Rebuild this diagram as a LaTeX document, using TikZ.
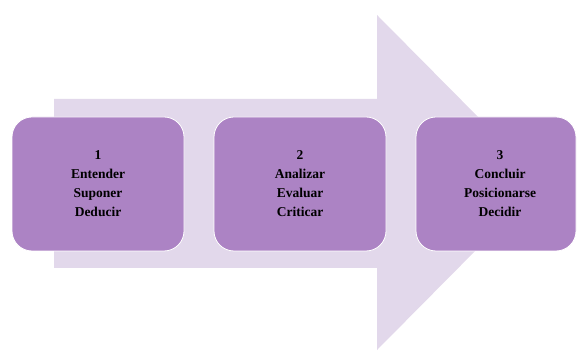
\documentclass[tikz,border=0pt]{standalone}
\usepackage{fontspec}
\setmainfont{Liberation Serif}
\usepackage{tikz}
\definecolor{lilac}{HTML}{E2D8EB}
\definecolor{violet}{HTML}{AC83C4}

\begin{document}
\begin{tikzpicture}[x=1pt, y=1pt]

\tikzstyle{every node}=[rectangle, rounded corners=20pt, fill=violet, draw=white, line width=0.8pt,
  minimum width=172pt, minimum height=134pt, align=center, text=black,
  font=\bfseries\fontsize{13.5}{19}\selectfont]
\useasboundingbox (0, 0) rectangle (577, 350);

\fill[lilac] (54, 251) -- (377, 251) -- (377, 335) -- (543, 167.5)
             -- (377, 0) -- (377, 82) -- (54, 82) -- cycle;

\draw    (98,  166)  node (1) {1\\Entender\\Suponer\\Deducir}
         (300, 166)  node (2) {2\\Analizar\\Evaluar\\Criticar}
         (496, 166)  node [minimum width=160pt] (3) {\hspace*{8pt}3\\\hspace*{8pt}Concluir\\\hspace*{8pt}Posicionarse\\\hspace*{8pt}Decidir};

\end{tikzpicture}
\end{document}
